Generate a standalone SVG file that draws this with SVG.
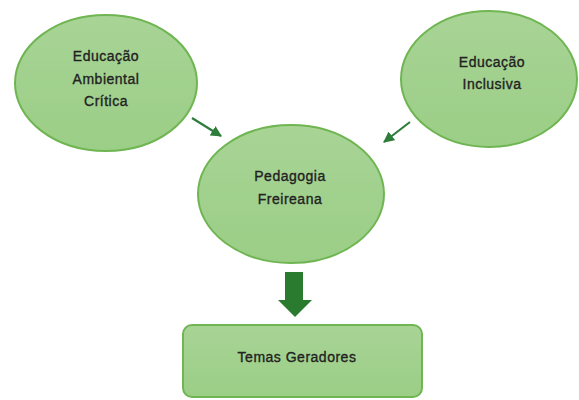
<svg xmlns="http://www.w3.org/2000/svg" width="579" height="400" viewBox="0 0 579 400">
<defs>
<linearGradient id="g" x1="0" y1="0" x2="0" y2="1">
<stop offset="0" stop-color="#a8d496"/>
<stop offset="1" stop-color="#9bce86"/>
</linearGradient>
<marker id="ah" viewBox="0 0 10 10" refX="9" refY="5" markerWidth="5" markerHeight="5" orient="auto" markerUnits="strokeWidth">
<path d="M0,0 L10,5 L0,10 z" fill="#2f7d3a"/>
</marker>
<style>
.n{fill:url(#g);stroke:#6fb552;stroke-width:2}
.t{font-family:"Liberation Sans",Arial,sans-serif;font-size:14px;fill:#222222;stroke:#222222;stroke-width:0.35;text-anchor:middle;letter-spacing:0.5px}
.c{stroke:#2f7d3a;stroke-width:2.2;fill:none}
</style>
</defs>
<rect width="579" height="400" fill="#ffffff"/>
<g id="ambiental">
<ellipse class="n" cx="106" cy="83" rx="91" ry="68"/>
<text class="t" x="106" y="61">Educação</text>
<text class="t" x="106" y="84">Ambiental</text>
<text class="t" x="106" y="106">Crítica</text>
</g>
<g id="inclusiva">
<ellipse class="n" cx="489" cy="79" rx="88" ry="68"/>
<text class="t" x="492" y="67">Educação</text>
<text class="t" x="492" y="89">Inclusiva</text>
</g>
<g id="freireana">
<ellipse class="n" cx="291" cy="194" rx="93" ry="69"/>
<text class="t" x="290" y="181">Pedagogia</text>
<text class="t" x="290" y="204">Freireana</text>
</g>
<g id="temas">
<rect class="n" x="183" y="325" width="239" height="72" rx="9"/>
<text class="t" x="297" y="362">Temas Geradores</text>
</g>
<g id="connectors">
<line class="c" x1="192" y1="118" x2="221" y2="136" marker-end="url(#ah)"/>
<line class="c" x1="410" y1="122" x2="384" y2="142" marker-end="url(#ah)"/>
<path d="M285,272 H303 V300 H312 L295,317 L278,300 H285 Z" fill="#2a7a30"/>
</g>
</svg>
